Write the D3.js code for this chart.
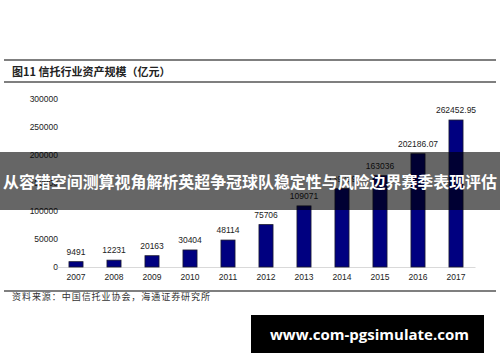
<!DOCTYPE html>
<html>
<head>
<meta charset="utf-8">
<script src="https://cdn.jsdelivr.net/npm/d3@7"></script>
<style>
html,body{margin:0;padding:0;background:#fff;}
svg{display:block;}
</style>
</head>
<body>
<svg id="chart" width="500" height="362"></svg>
<script>
const years = ["2007","2008","2009","2010","2011","2012","2013","2014","2015","2016","2017"];
const assets = [9491, 12231, 20163, 30404, 48114, 75706, 109071, 139799, 163036, 202186.07, 262452.95];
const valueLabels = ["9491","12231","20163","30404","48114","75706","109071","139799","163036","202186.07","262452.95"];
const yTicks = [0, 50000, 100000, 150000, 200000, 250000, 300000];
const chartTitle = "图11 信托行业资产规模（亿元）";
const sourceText = "资料来源：中国信托业协会，海通证券研究所";
const bannerText = "从容错空间测算视角解析英超争冠球队稳定性与风险边界赛季表现评估";
const watermark = "www.com-pgsimulate.com";

const svg = d3.select("#chart");
const latin = "Liberation Sans, Arial, sans-serif";
const cjk = "Noto Sans CJK SC, sans-serif";

// frame lines
svg.append("line").attr("x1",4).attr("x2",496).attr("y1",60).attr("y2",60).attr("stroke","#555").attr("stroke-width",1.3);
svg.append("line").attr("x1",4).attr("x2",496).attr("y1",82).attr("y2",82).attr("stroke","#555").attr("stroke-width",1.3);
svg.append("line").attr("x1",4).attr("x2",496).attr("y1",291).attr("y2",291).attr("stroke","#555").attr("stroke-width",1.3);

svg.append("text").attr("x",12).attr("y",72).attr("dy","0.35em")
  .attr("font-family",cjk).attr("font-weight","bold").attr("font-size",11).attr("fill","#222")
  .text(chartTitle);

svg.append("text").attr("x",12).attr("y",297).attr("dy","0.35em")
  .attr("font-family",cjk).attr("font-size",9).attr("fill","#333")
  .attr("textLength",198).attr("lengthAdjust","spacing")
  .text(sourceText);

// scales
const x = d3.scaleBand().domain(years).range([57,475]).paddingInner(0.63).paddingOuter(0.315);
const y = d3.scaleLinear().domain([0,300000]).range([267,99]);

// y axis
const yAxis = svg.append("g").attr("transform","translate(58,0)")
  .call(d3.axisLeft(y).tickValues(yTicks).tickSize(0).tickPadding(0).tickFormat(d3.format("d")));
yAxis.select(".domain").remove();
yAxis.selectAll("text").attr("font-family",latin).attr("font-size",8.5).attr("fill","#222");

// x axis
const xAxis = svg.append("g").attr("transform","translate(0,267)")
  .call(d3.axisBottom(x).tickSize(0).tickPadding(7));
xAxis.select(".domain").attr("stroke","#d9d9d9").attr("stroke-width",1);
xAxis.selectAll("text").attr("font-family",latin).attr("font-size",8.5).attr("fill","#222");

// bars
svg.append("g").selectAll("rect").data(years).join("rect")
  .attr("x",d=>x(d))
  .attr("width",x.bandwidth())
  .attr("y",(d,i)=>y(assets[i]))
  .attr("height",(d,i)=>y(0)-y(assets[i]))
  .attr("fill","#000080")
  .attr("stroke","#1a1a2e").attr("stroke-width",0.8);

// value labels
svg.append("g").selectAll("text").data(years).join("text")
  .attr("x",d=>x(d)+x.bandwidth()/2)
  .attr("y",(d,i)=>y(assets[i])-10)
  .attr("dy","0.35em")
  .attr("text-anchor","middle")
  .attr("font-family",latin).attr("font-size",8.5).attr("fill","#222")
  .text((d,i)=>valueLabels[i]);

// banner overlay
svg.append("rect").attr("x",0).attr("y",152).attr("width",500).attr("height",58)
  .attr("fill","#000").attr("fill-opacity",0.6);
svg.append("text").attr("x",250).attr("y",182).attr("dy","0.35em").attr("text-anchor","middle")
  .attr("font-family",cjk).attr("font-weight","bold").attr("font-size",15.8).attr("fill","#fff")
  .attr("textLength",494).attr("lengthAdjust","spacingAndGlyphs")
  .text(bannerText);

// watermark
svg.append("rect").attr("x",251).attr("y",315).attr("width",233).attr("height",38).attr("fill","#000");
svg.append("text").attr("x",369.5).attr("y",335).attr("dy","0.35em").attr("text-anchor","middle")
  .attr("font-family","Open Sans, sans-serif").attr("font-weight","bold").attr("font-size",15).attr("fill","#fff")
  .text(watermark);
</script>
</body>
</html>
